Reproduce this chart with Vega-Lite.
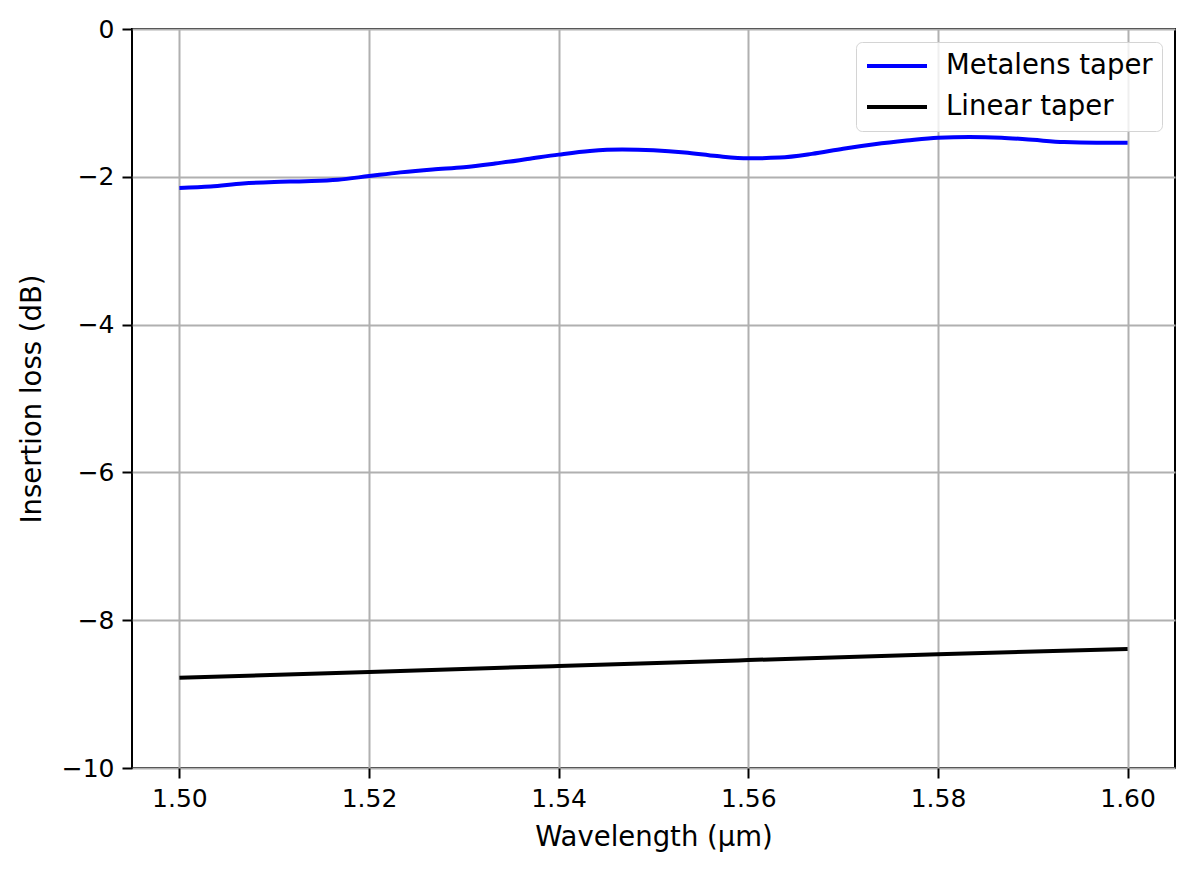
{
  "$schema": "https://vega.github.io/schema/vega-lite/v6.json",
  "autosize": {"type": "none"},
  "padding": {"left": 132, "top": 29, "right": 18, "bottom": 104},
  "width": 1043,
  "height": 739,
  "background": "white",
  "data": {
    "values": [
      {"wl": 1.5, "il": -2.15, "series": "Metalens taper"},
      {"wl": 1.5033, "il": -2.13, "series": "Metalens taper"},
      {"wl": 1.5067, "il": -2.09, "series": "Metalens taper"},
      {"wl": 1.51, "il": -2.07, "series": "Metalens taper"},
      {"wl": 1.5133, "il": -2.06, "series": "Metalens taper"},
      {"wl": 1.5167, "il": -2.04, "series": "Metalens taper"},
      {"wl": 1.52, "il": -1.99, "series": "Metalens taper"},
      {"wl": 1.5233, "il": -1.94, "series": "Metalens taper"},
      {"wl": 1.5267, "il": -1.9, "series": "Metalens taper"},
      {"wl": 1.53, "il": -1.87, "series": "Metalens taper"},
      {"wl": 1.5333, "il": -1.82, "series": "Metalens taper"},
      {"wl": 1.5367, "il": -1.76, "series": "Metalens taper"},
      {"wl": 1.54, "il": -1.7, "series": "Metalens taper"},
      {"wl": 1.5433, "il": -1.65, "series": "Metalens taper"},
      {"wl": 1.5467, "il": -1.63, "series": "Metalens taper"},
      {"wl": 1.55, "il": -1.64, "series": "Metalens taper"},
      {"wl": 1.5533, "il": -1.67, "series": "Metalens taper"},
      {"wl": 1.5567, "il": -1.72, "series": "Metalens taper"},
      {"wl": 1.56, "il": -1.75, "series": "Metalens taper"},
      {"wl": 1.5633, "il": -1.74, "series": "Metalens taper"},
      {"wl": 1.5667, "il": -1.69, "series": "Metalens taper"},
      {"wl": 1.57, "il": -1.62, "series": "Metalens taper"},
      {"wl": 1.5733, "il": -1.56, "series": "Metalens taper"},
      {"wl": 1.5767, "il": -1.51, "series": "Metalens taper"},
      {"wl": 1.58, "il": -1.47, "series": "Metalens taper"},
      {"wl": 1.5833, "il": -1.46, "series": "Metalens taper"},
      {"wl": 1.5867, "il": -1.47, "series": "Metalens taper"},
      {"wl": 1.59, "il": -1.5, "series": "Metalens taper"},
      {"wl": 1.5933, "il": -1.53, "series": "Metalens taper"},
      {"wl": 1.5967, "il": -1.54, "series": "Metalens taper"},
      {"wl": 1.6, "il": -1.54, "series": "Metalens taper"},
      {"wl": 1.5, "il": -8.78, "series": "Linear taper"},
      {"wl": 1.52, "il": -8.7, "series": "Linear taper"},
      {"wl": 1.54, "il": -8.62, "series": "Linear taper"},
      {"wl": 1.56, "il": -8.54, "series": "Linear taper"},
      {"wl": 1.58, "il": -8.46, "series": "Linear taper"},
      {"wl": 1.6, "il": -8.39, "series": "Linear taper"}
    ]
  },
  "mark": {"type": "line", "strokeWidth": 4, "interpolate": "monotone"},
  "encoding": {
    "x": {
      "field": "wl",
      "type": "quantitative",
      "title": "Wavelength (µm)",
      "scale": {"domain": [1.495, 1.605], "nice": false, "zero": false},
      "axis": {
        "values": [1.5, 1.52, 1.54, 1.56, 1.58, 1.6],
        "format": ".2f",
        "titlePadding": 12
      }
    },
    "y": {
      "field": "il",
      "type": "quantitative",
      "title": "Insertion loss (dB)",
      "scale": {"domain": [-10, 0], "nice": false},
      "axis": {
        "values": [-10, -8, -6, -4, -2, 0],
        "labelExpr": "datum.value < 0 ? '\u2212' + format(-datum.value, 'd') : '0'",
        "titlePadding": 15
      }
    },
    "color": {
      "field": "series",
      "type": "nominal",
      "title": null,
      "scale": {
        "domain": ["Metalens taper", "Linear taper"],
        "range": ["#0000ff", "#000000"]
      },
      "legend": {
        "orient": "top-right",
        "offset": 13,
        "padding": 9,
        "symbolType": "stroke",
        "symbolSize": 3600,
        "symbolStrokeWidth": 4,
        "clipHeight": 30,
        "labelOffset": 17,
        "rowPadding": 11,
        "strokeColor": "#d4d4d4",
        "fillColor": "rgba(255,255,255,0.8)",
        "cornerRadius": 6
      }
    }
  },
  "config": {
    "font": "DejaVu Sans",
    "view": {"stroke": "black", "strokeWidth": 2},
    "axis": {
      "grid": true,
      "gridColor": "#b0b0b0",
      "gridWidth": 2,
      "domain": false,
      "tickColor": "black",
      "tickWidth": 2,
      "tickSize": 10,
      "labelFontSize": 25,
      "labelColor": "black",
      "labelPadding": 8,
      "titleFontSize": 27.5,
      "titleFontWeight": "normal",
      "titleColor": "black",
      "labelFlush": false
    },
    "legend": {
      "labelFontSize": 27.5,
      "labelColor": "black",
      "labelLimit": 400
    }
  }
}
